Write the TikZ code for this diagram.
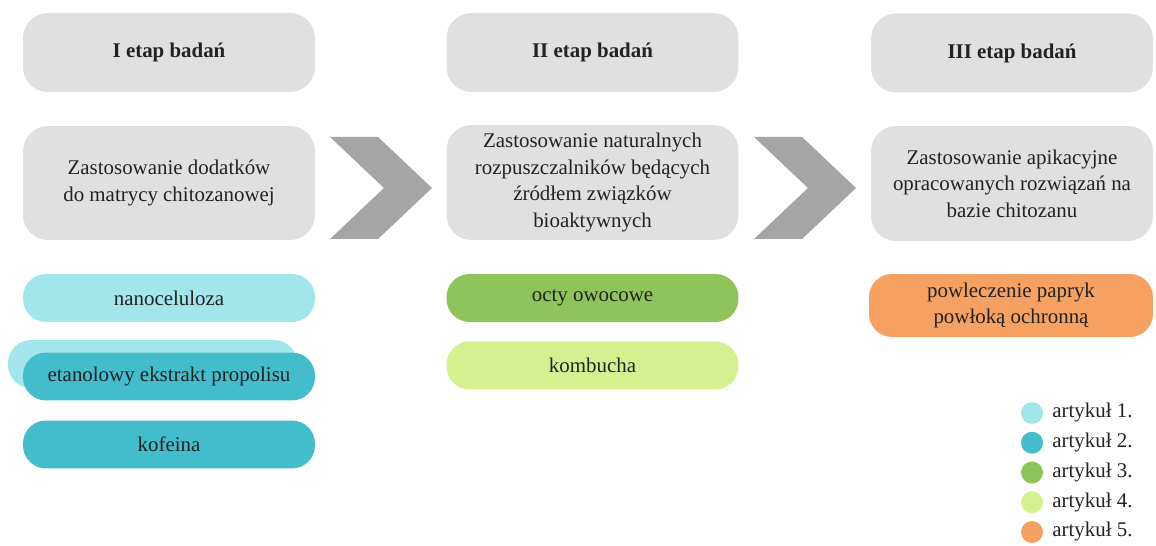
\documentclass[tikz,border=0pt]{standalone}
\usepackage{fontspec}
\setmainfont{Liberation Serif}
\definecolor{boxgray}{HTML}{E0E0E0}
\definecolor{arrowgray}{HTML}{A5A5A5}
\definecolor{art1}{HTML}{A2E6EB}
\definecolor{art2}{HTML}{43BCCB}
\definecolor{art3}{HTML}{8FC45A}
\definecolor{art4}{HTML}{D5F08F}
\definecolor{art5}{HTML}{F6A162}
\definecolor{txt}{HTML}{222222}
\tikzset{
  base/.style={text=txt,font=\fontsize{11.9}{15.1}\selectfont,align=center,inner sep=0pt},
  etapbox/.style={base,fill=boxgray,rounded corners=0.5cm,minimum width=5.84cm},
  pill/.style={base,rounded corners=0.46cm,minimum width=5.84cm,minimum height=0.96cm},
  dot/.style={circle,minimum size=0.44cm,inner sep=0pt},
  strzalka/.style={fill=arrowgray}
}

\begin{document}
\begin{tikzpicture}[x=0.02cm,y=-0.02cm]
      \useasboundingbox (0,0) rectangle (1156,546);

      \node[etapbox,minimum height=1.58cm,font=\fontsize{11.9}{15.1}\selectfont\bfseries] (etap1) at (169,52.5) {I etap badań};
      \node[etapbox,minimum height=1.58cm,font=\fontsize{11.9}{15.1}\selectfont\bfseries] (etap2) at (592.5,52.5) {II etap badań};
      \node[etapbox,minimum height=1.58cm,minimum width=5.64cm,font=\fontsize{11.9}{15.1}\selectfont\bfseries] (etap3) at (1012,53) {III etap badań};

      \node[etapbox,minimum height=2.28cm] (opis1) at (169,183) {Zastosowanie dodatków\\do matrycy chitozanowej};
      \node[etapbox,minimum height=2.3cm] (opis2) at (592.5,182.5) {Zastosowanie naturalnych\\rozpuszczalników będących\\źródłem związków\\bioaktywnych};
      \node[etapbox,minimum height=2.3cm,minimum width=5.64cm] (opis3) at (1012,183.5) {Zastosowanie apikacyjne\\opracowanych rozwiązań na\\bazie chitozanu};

      \fill[strzalka] (330,137) -- (378,137) -- (432,188) -- (378,239) -- (330,239) -- (384,188) -- cycle;
      \fill[strzalka] (754,137) -- (802,137) -- (856,188) -- (802,239) -- (754,239) -- (808,188) -- cycle;

      \node[pill,fill=art1] (nano) at (169,298) {nanoceluloza};
      \node[pill,fill=art1,minimum width=5.78cm] (cien) at (152.5,364) {};
      \node[pill,fill=art2] (etanol) at (169,376.5) {etanolowy ekstrakt propolisu};
      \node[pill,fill=art2] (kofeina) at (169,444.5) {kofeina};

      \node[pill,fill=art3] (ocet) at (592.5,298) {octy owocowe};
      \node[pill,fill=art4] (kombucha) at (592.5,365.5) {kombucha};

      \node[pill,fill=art5,minimum width=5.68cm,minimum height=1.26cm] (papryka) at (1011,305.5) {powleczenie papryk\\powłoką ochronną};

      \foreach \c [count=\i] in {art1,art2,art3,art4,art5} {
        \node[dot,fill=\c] (k\i) at (1032,{413+29.75*(\i-1)}) {};
        \node[base,anchor=west] (l\i) at (1052,{413+29.75*(\i-1)}) {artykuł \i.};
      }
    \end{tikzpicture}
\end{document}
